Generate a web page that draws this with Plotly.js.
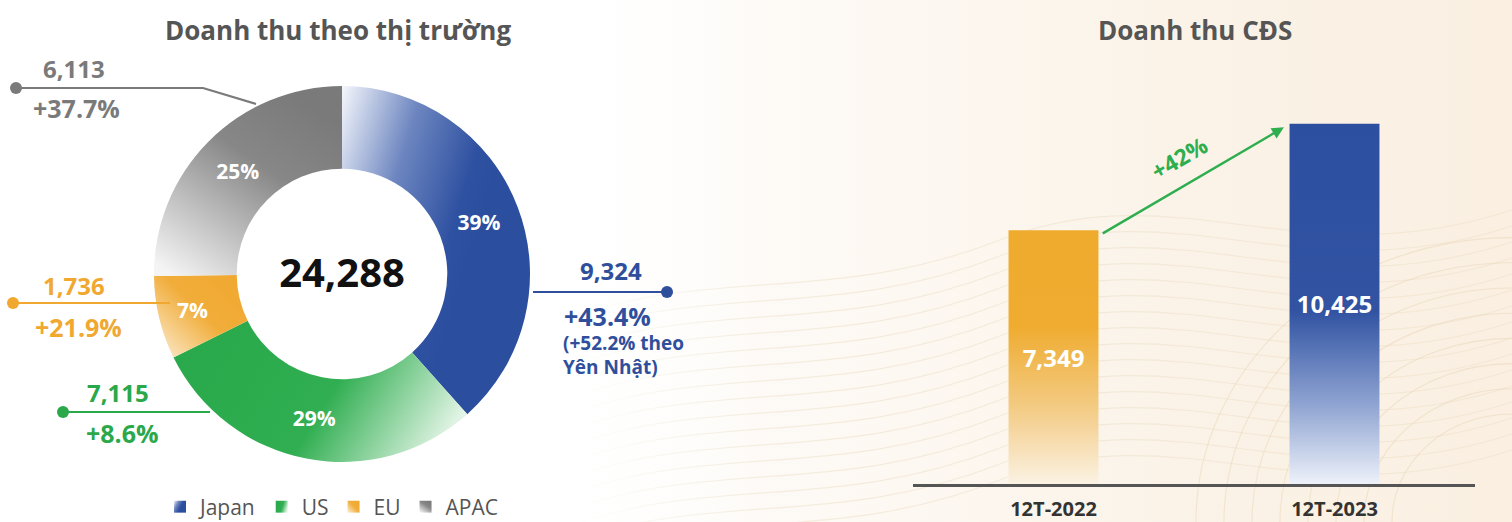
<!DOCTYPE html>
<html>
<head>
<meta charset="utf-8">
<script src="https://cdn.plot.ly/plotly-3.0.1.min.js"></script>
<style>
  html, body { margin: 0; padding: 0; background: #ffffff; }
  #chart { width: 1512px; height: 522px; }
</style>
</head>
<body>
<div id="chart"></div>
<script>
// ---------------- DATA ----------------
const markets = ['Japan', 'US', 'EU', 'APAC'];
const marketRevenue = [9324, 7115, 1736, 6113];
const marketShareLabels = ['39%', '29%', '7%', '25%'];
const marketGrowth = ['+43.4%', '+8.6%', '+21.9%', '+37.7%'];
const japanYenNote = ['(+52.2% theo', 'Yên Nhật)'];
const periods = ['12T-2022', '12T-2023'];
const dxRevenue = [7349, 10425];
const dxGrowthLabel = '+42%';
const titles = ['Doanh thu theo thị trường', 'Doanh thu CĐS'];

// ---------------- STYLE ----------------
const W = 1512, H = 522;
const FONT = "'Open Sans', 'Noto Sans', sans-serif";
const marketColors = ['#2f51a1', '#2aab4c', '#f0a830', '#7d7d7d'];
const marketLabelColors = ['#2f4f9c', '#2aa84a', '#f0a830', '#7a7a7a'];
const barColors = ['#efab2e', '#2d4f9f'];
const fmt = v => v.toLocaleString('en-US');
const px = x => x / W;
const py = y => 1 - y / H;

const total = marketRevenue.reduce((a, b) => a + b, 0);

// ---------------- TRACES ----------------
const pieTrace = {
  type: 'pie',
  labels: markets,
  values: marketRevenue,
  text: marketShareLabels,
  textinfo: 'text',
  textposition: 'inside',
  insidetextorientation: 'horizontal',
  textfont: { family: FONT, size: 21, color: '#ffffff', weight: 700 },
  sort: false,
  direction: 'clockwise',
  rotation: 0,
  hole: 0.56,
  marker: { colors: marketColors, line: { width: 0 } },
  domain: { x: [px(154), px(530)], y: [py(462), py(86)] },
  title: { text: fmt(total), position: 'middle center',
           font: { family: FONT, size: 40, color: '#111111', weight: 700 } },
  hoverinfo: 'none',
  showlegend: true
};

const barWidth = 0.32;
const barTrace = {
  type: 'bar',
  x: periods,
  y: dxRevenue,
  width: barWidth,
  marker: { color: barColors, line: { width: 0 } },
  text: dxRevenue.map(fmt),
  textposition: 'inside',
  insidetextanchor: 'middle',
  textfont: { family: FONT, size: 24, color: '#ffffff', weight: 700 },
  xaxis: 'x', yaxis: 'y',
  hoverinfo: 'none',
  showlegend: false
};

// ---------------- ANNOTATIONS / SHAPES ----------------
const ann = [];
const shapes = [];

// Titles
ann.push({ xref: 'paper', yref: 'paper', x: px(338), y: py(30), text: titles[0], showarrow: false,
  xanchor: 'center', yanchor: 'middle', font: { family: FONT, size: 26, color: '#555555', weight: 700 } });
ann.push({ xref: 'paper', yref: 'paper', x: px(1195), y: py(30), text: titles[1], showarrow: false,
  xanchor: 'center', yanchor: 'middle', font: { family: FONT, size: 26, color: '#555555', weight: 700 } });

// callout helper
function callout(i, valPos, growPos, lineFrom, lineTo, midPt) {
  const c = marketLabelColors[i];
  ann.push({ xref: 'paper', yref: 'paper', x: px(valPos[0]), y: py(valPos[1]), text: fmt(marketRevenue[i]),
    showarrow: false, xanchor: valPos[2] || 'center', yanchor: 'middle',
    font: { family: FONT, size: 24, color: c, weight: 700 } });
  ann.push({ xref: 'paper', yref: 'paper', x: px(growPos[0]), y: py(growPos[1]), text: marketGrowth[i],
    showarrow: false, xanchor: growPos[2] || 'center', yanchor: 'middle',
    font: { family: FONT, size: 25, color: c, weight: 700 } });
  let path = 'M' + px(lineFrom[0]) + ',' + py(lineFrom[1]);
  if (midPt) path += ' L' + px(midPt[0]) + ',' + py(midPt[1]);
  path += ' L' + px(lineTo[0]) + ',' + py(lineTo[1]);
  shapes.push({ type: 'path', xref: 'paper', yref: 'paper', path: path,
    line: { color: c, width: 2.2 } });
  const dot = lineFrom[2] ? lineTo : lineFrom;
  const r = 6;
  shapes.push({ type: 'circle', xref: 'paper', yref: 'paper',
    x0: px(dot[0] - r), x1: px(dot[0] + r), y0: py(dot[1] + r), y1: py(dot[1] - r),
    fillcolor: c, line: { width: 0 } });
}

// APAC (index 3)
callout(3, [74, 68], [76, 108], [16, 88], [256, 104], [203, 88]);
// EU (index 2)
callout(2, [74, 285], [78, 327], [13, 303], [170, 303]);
// US (index 1)
callout(1, [118, 392], [122, 433], [63, 412], [210, 412]);
// Japan (index 0) - dot at right end
callout(0, [611, 270], [562, 316, 'left'], [533, 292, true], [667, 292]);
japanYenNote.forEach((t, k) => {
  ann.push({ xref: 'paper', yref: 'paper', x: px(561), y: py(343 + k * 24), text: t, showarrow: false,
    xanchor: 'left', yanchor: 'middle', font: { family: FONT, size: 19, color: marketLabelColors[0], weight: 700 } });
});

// Growth arrow between bars (data coordinates)
const arrowTail = { x: 0 + barWidth / 2 + 0.01, y: dxRevenue[0] - 120 };
const arrowHead = { x: 1 - barWidth / 2 - 0.02, y: dxRevenue[1] - 100 };
ann.push({ xref: 'x', yref: 'y', axref: 'x', ayref: 'y',
  x: arrowHead.x, y: arrowHead.y, ax: arrowTail.x, ay: arrowTail.y,
  text: '', showarrow: true, arrowhead: 2, arrowsize: 1, arrowwidth: 2.4, arrowcolor: '#2eae4f' });
ann.push({ xref: 'x', yref: 'y', x: (arrowHead.x + arrowTail.x) / 2, y: (arrowHead.y + arrowTail.y) / 2,
  xshift: -14, yshift: 23, text: dxGrowthLabel, showarrow: false, textangle: -30,
  font: { family: FONT, size: 23, color: '#2eae4f', weight: 700 } });

// Background: white -> cream gradient with faint contour waves (decoration only)
let waves = '';
for (let k = 0; k < 16; k++) {
  const y0 = 300 + k * 16;
  waves += `<path d="M540 ${y0 + 30} C 700 ${y0 - 40}, 820 ${y0 + 10}, 1000 ${y0 - 60} S 1300 ${y0 - 20}, 1512 ${y0 - 90}" fill="none" stroke="#ecdcc2" stroke-opacity="0.45" stroke-width="1.1"/>`;
}
for (let k = 0; k < 8; k++) {
  const r = 120 + k * 28;
  waves += `<path d="M${1512 - r} 522 A ${r} ${r * 0.9} 0 0 1 1512 ${522 - r * 0.9}" fill="none" stroke="#e9d6b6" stroke-opacity="0.5" stroke-width="1.1"/>`;
}
const bgSvg = `<svg xmlns="http://www.w3.org/2000/svg" width="${W}" height="${H}" viewBox="0 0 ${W} ${H}" preserveAspectRatio="none">
<defs><linearGradient id="bg" x1="0" y1="0" x2="1" y2="0">
<stop offset="0" stop-color="#ffffff"/><stop offset="0.36" stop-color="#ffffff"/>
<stop offset="0.55" stop-color="#fdf9f4"/><stop offset="0.78" stop-color="#fbf3e8"/>
<stop offset="1" stop-color="#faefe1"/></linearGradient>
<linearGradient id="fadeL" x1="0" y1="0" x2="1" y2="0">
<stop offset="0" stop-color="#ffffff" stop-opacity="1"/><stop offset="0.38" stop-color="#ffffff" stop-opacity="1"/>
<stop offset="0.5" stop-color="#ffffff" stop-opacity="0"/><stop offset="1" stop-color="#ffffff" stop-opacity="0"/></linearGradient></defs>
<rect width="${W}" height="${H}" fill="url(#bg)"/>${waves}
<rect width="${W}" height="${H}" fill="url(#fadeL)"/></svg>`;

const layout = {
  width: W, height: H,
  margin: { l: 0, r: 0, t: 0, b: 0, autoexpand: false },
  paper_bgcolor: '#ffffff',
  plot_bgcolor: 'rgba(0,0,0,0)',
  font: { family: FONT },
  showlegend: true,
  legend: {
    orientation: 'h', x: px(160), xanchor: 'left', y: py(507), yanchor: 'middle',
    font: { family: FONT, size: 21, color: '#555555' }, bgcolor: 'rgba(0,0,0,0)',
    traceorder: 'normal', itemclick: false, itemdoubleclick: false
  },
  xaxis: {
    domain: [px(913), px(1475)], range: [-0.5, 1.5], type: 'category', automargin: false,
    showline: true, linecolor: '#555555', linewidth: 2.5, showgrid: false, zeroline: false,
    ticks: '', ticklabelstandoff: 5, fixedrange: true,
    tickfont: { family: FONT, size: 20, color: '#333333', weight: 700 }
  },
  yaxis: {
    domain: [py(484), py(104)], range: [0, 11000], visible: false, fixedrange: true,
    showgrid: false, zeroline: false, automargin: false
  },
  annotations: ann,
  shapes: shapes,
  images: [{ source: 'data:image/svg+xml;charset=utf-8,' + encodeURIComponent(bgSvg),
    xref: 'paper', yref: 'paper', x: 0, y: 1, sizex: 1, sizey: 1, xanchor: 'left', yanchor: 'top',
    sizing: 'stretch', layer: 'below' }],
  hovermode: false
};

// ---------------- GRADIENT STYLING ----------------
const gradientDefs = {
  gJapan: { x1: 0, y1: 0, x2: 0.75, y2: 0.4, stops: [[0, '#f5f7fc'], [0.45, '#6d86c0'], [0.85, '#2f51a1'], [1, '#2c4e9e']] },
  gUS: { x1: 0, y1: 0.3, x2: 1, y2: 0.6, stops: [[0, '#29a94b'], [0.55, '#30ae51'], [1, '#e2f4e5']] },
  gEU: { x1: 1, y1: 0.1, x2: 0, y2: 1, stops: [[0, '#f0a830'], [0.45, '#f1ad3a'], [1, '#fcefd8']] },
  gAPAC: { x1: 0.75, y1: 0.05, x2: 0.1, y2: 1, stops: [[0, '#7a7a7a'], [0.35, '#878787'], [1, '#f4f4f4']] },
  gBar0: { x1: 0, y1: 0, x2: 0, y2: 1, stops: [[0, '#efab2e'], [0.38, '#efac30'], [0.7, '#f3cb84'], [1, '#fbf2e3']] },
  gBar1: { x1: 0, y1: 0, x2: 0, y2: 1, stops: [[0, '#2d4f9f'], [0.52, '#3153a2'], [0.78, '#8fa4d2'], [1, '#edf1f9']] }
};
const sliceGrad = ['gJapan', 'gUS', 'gEU', 'gAPAC'];
const barGrad = ['gBar0', 'gBar1'];

function applyGradients(gd) {
  const NS = 'http://www.w3.org/2000/svg';
  const defs = gd.querySelector('svg.main-svg defs');
  if (!defs) return;
  Object.keys(gradientDefs).forEach(id => {
    if (defs.querySelector('#' + id)) return;
    const g = gradientDefs[id];
    const lg = document.createElementNS(NS, 'linearGradient');
    lg.setAttribute('id', id);
    ['x1', 'y1', 'x2', 'y2'].forEach(k => lg.setAttribute(k, g[k]));
    g.stops.forEach(s => {
      const st = document.createElementNS(NS, 'stop');
      st.setAttribute('offset', s[0]);
      st.setAttribute('stop-color', s[1]);
      lg.appendChild(st);
    });
    defs.appendChild(lg);
  });
  gd.querySelectorAll('g.slice path.surface').forEach((p, i) => {
    if (sliceGrad[i]) p.style.fill = 'url(#' + sliceGrad[i] + ')';
  });
  gd.querySelectorAll('g.legendpoints path.legendpie').forEach((p, i) => {
    if (sliceGrad[i]) p.style.fill = 'url(#' + sliceGrad[i] + ')';
  });
  gd.querySelectorAll('g.bars g.point path').forEach((p, i) => {
    if (barGrad[i]) p.style.fill = 'url(#' + barGrad[i] + ')';
  });
}

const gd = document.getElementById('chart');
Plotly.newPlot(gd, [pieTrace, barTrace], layout, { displayModeBar: false, staticPlot: true })
  .then(() => {
    applyGradients(gd);
    gd.on && gd.on('plotly_afterplot', () => applyGradients(gd));
  });
</script>
</body>
</html>
